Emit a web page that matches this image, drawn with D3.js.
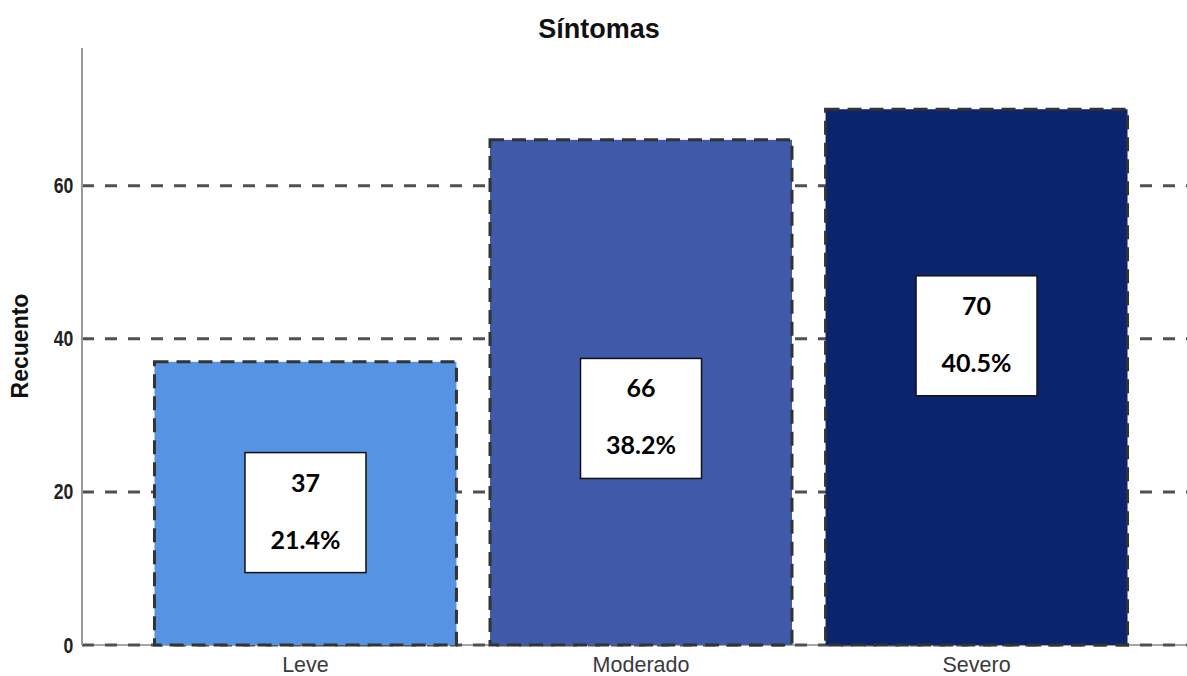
<!DOCTYPE html>
<html>
<head>
<meta charset="utf-8">
<script src="https://cdn.jsdelivr.net/npm/d3@7"></script>
<style>
  html, body { margin: 0; padding: 0; background: #fff; }
  svg { display: block; }
</style>
</head>
<body>
<svg id="chart" width="1187" height="676"></svg>
<script>
// Síntomas: recuento por nivel de severidad
const categories = ["Leve", "Moderado", "Severo"];
const counts = [37, 66, 70];
const barColors = ["#5594e3", "#3f5aa8", "#0a256e"];
const yTicks = [0, 20, 40, 60];
// vertical anchor of each value box, in count units
const boxCenters = [17.3, 29.6, 40.4];

const total = d3.sum(counts);
const pct = d3.format(".1%");

const plotLeft = 82, plotRight = 1187, plotTop = 48, plotBottom = 645;

const svg = d3.select("#chart");

const x = d3.scaleBand()
  .domain(categories)
  .range([plotLeft, 1200])
  .paddingInner(0.1)
  .paddingOuter(0.216);

const y = d3.scaleLinear()
  .domain([0, 78])
  .range([plotBottom, plotTop]);

// title
svg.append("text")
  .attr("x", 599).attr("y", 38)
  .attr("text-anchor", "middle")
  .attr("font-family", "'Liberation Sans', Arial, sans-serif")
  .attr("font-weight", "bold")
  .attr("font-size", 27)
  .attr("fill", "#111")
  .text("Síntomas");

// baseline
svg.append("line")
  .attr("x1", plotLeft).attr("x2", plotRight)
  .attr("y1", y(0)).attr("y2", y(0))
  .attr("stroke", "#a6a6a6").attr("stroke-width", 2);

// dashed gridlines
svg.append("g")
  .selectAll("line")
  .data(yTicks)
  .join("line")
  .attr("x1", plotLeft).attr("x2", plotRight)
  .attr("y1", d => y(d)).attr("y2", d => y(d))
  .attr("stroke", "#505050")
  .attr("stroke-width", 3)
  .attr("stroke-dasharray", "12,11");

// bars
const data = categories.map((c, i) => ({ c, v: counts[i], col: barColors[i], b: boxCenters[i] }));

svg.append("g")
  .selectAll("rect")
  .data(data)
  .join("rect")
  .attr("x", d => x(d.c))
  .attr("y", d => y(d.v))
  .attr("width", x.bandwidth())
  .attr("height", d => y(0) - y(d.v))
  .attr("fill", d => d.col)
  .attr("stroke", "#333")
  .attr("stroke-width", 3)
  .attr("stroke-dasharray", "14,8");

// y axis line
svg.append("line")
  .attr("x1", plotLeft).attr("x2", plotLeft)
  .attr("y1", plotTop).attr("y2", plotBottom)
  .attr("stroke", "#9a9a9a").attr("stroke-width", 2);

// y tick labels, condensed bold
const yAxis = d3.axisLeft(y).tickValues(yTicks).tickSize(0).tickPadding(11);
const yg = svg.append("g").attr("transform", `translate(${plotLeft},0)`).call(yAxis);
yg.select(".domain").remove();
yg.selectAll("text")
  .attr("font-family", "'Liberation Sans', Arial, sans-serif")
  .attr("font-weight", "bold")
  .attr("font-size", 22)
  .attr("fill", "#222")
  .attr("transform", "scale(0.8,1)");

// x axis labels
const xAxis = d3.axisBottom(x).tickSize(0).tickPadding(12);
const xg = svg.append("g").attr("transform", `translate(0,${plotBottom})`).call(xAxis);
xg.select(".domain").remove();
xg.selectAll("text")
  .attr("font-family", "'Liberation Sans', Arial, sans-serif")
  .attr("font-size", 21.5)
  .attr("fill", "#3a3a3a")
  .attr("dy", "0.71em");

// y axis title
svg.append("text")
  .attr("transform", "translate(28,346) rotate(-90)")
  .attr("text-anchor", "middle")
  .attr("font-family", "'Liberation Sans', Arial, sans-serif")
  .attr("font-weight", "bold")
  .attr("font-size", 23)
  .attr("fill", "#111")
  .text("Recuento");

// value boxes
const boxW = 121, boxH = 120;
const boxes = svg.append("g")
  .selectAll("g")
  .data(data)
  .join("g")
  .attr("transform", d => `translate(${x(d.c) + x.bandwidth() / 2},${y(d.b)})`);

boxes.append("rect")
  .attr("x", -boxW / 2).attr("y", -boxH / 2)
  .attr("width", boxW).attr("height", boxH)
  .attr("fill", "#fff")
  .attr("stroke", "#111")
  .attr("stroke-width", 1.5);

boxes.append("text")
  .attr("y", -boxH / 2 + 39)
  .attr("text-anchor", "middle")
  .attr("font-family", "Lato, 'Open Sans', sans-serif")
  .attr("font-weight", "bold")
  .attr("font-size", 25)
  .attr("fill", "#000")
  .text(d => d.v);

boxes.append("text")
  .attr("y", -boxH / 2 + 96)
  .attr("text-anchor", "middle")
  .attr("font-family", "Lato, 'Open Sans', sans-serif")
  .attr("font-weight", "bold")
  .attr("font-size", 25)
  .attr("fill", "#000")
  .text(d => pct(d.v / total));
</script>
</body>
</html>
